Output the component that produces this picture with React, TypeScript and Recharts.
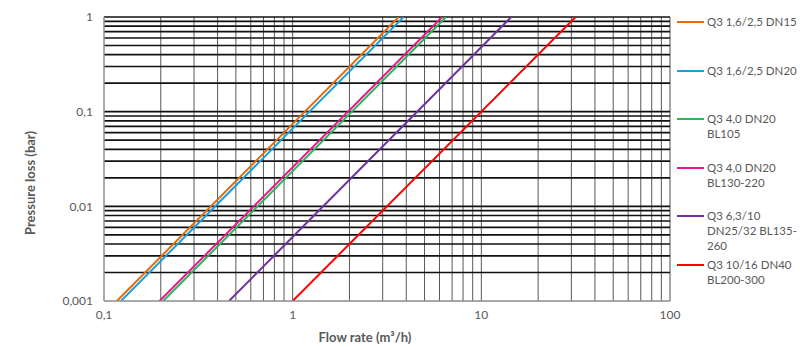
import React from 'react';
import { LineChart, Line, XAxis, YAxis, ReferenceLine, Label } from 'recharts';

const seriesNames = [
  'Q3 1,6/2,5 DN15',
  'Q3 1,6/2,5 DN20',
  'Q3 4,0 DN20\nBL105',
  'Q3 4,0 DN20\nBL130-220',
  'Q3 6,3/10\nDN25/32 BL135-\n260',
  'Q3 10/16 DN40\nBL200-300',
];
const seriesColors = ['#E36C0A', '#1AA0DB', '#2BB55A', '#E6168D', '#7030A0', '#FF0000'];
// flow rate (m³/h) at 0.001 bar and at 1 bar
const flowAtMinLoss = [0.117, 0.123, 0.206, 0.197, 0.46, 1.0];
const flowAtMaxLoss = [3.65, 3.87, 6.5, 6.2, 14.4, 31.6];
const lossRange = [0.001, 1];

const xTicks = [0.1, 1, 10, 100];
const yTicks = [0.001, 0.01, 0.1, 1];
const xGrid = [0.2, 0.3, 0.4, 0.5, 0.6, 0.7, 0.8, 0.9, 1, 2, 3, 4, 5, 6, 7, 8, 9, 10, 20, 30, 40, 50, 60, 70, 80, 90, 100];
const yGrid = [
  0.002, 0.003, 0.004, 0.005, 0.006, 0.007, 0.008, 0.009, 0.01,
  0.02, 0.03, 0.04, 0.05, 0.06, 0.07, 0.08, 0.09, 0.1,
  0.2, 0.3, 0.4, 0.5, 0.6, 0.7, 0.8, 0.9, 1,
];

const FONT = 'Lato, "Open Sans", sans-serif';
const fmt = (v: number) => String(v).replace('.', ',');

export default function App() {
  const series = seriesNames.map((name, i) => ({
    name,
    color: seriesColors[i],
    data: [
      { x: flowAtMinLoss[i], y: lossRange[0] },
      { x: flowAtMaxLoss[i], y: lossRange[1] },
    ],
  }));
  return (
    <div style={{ position: 'absolute', left: 0, top: 0, width: 800, height: 350, fontFamily: FONT, background: '#fff' }}>
      <LineChart width={800} height={350} margin={{ top: 17, right: 130, bottom: 4, left: 0 }}>
        <XAxis
          dataKey="x"
          type="number"
          scale="log"
          domain={[0.1, 100]}
          ticks={xTicks}
          allowDataOverflow
          height={45}
          tickSize={0}
          tickMargin={9}
          tickFormatter={fmt}
          tick={{ fill: '#595959', fontSize: 12, fontFamily: FONT }}
          axisLine={{ stroke: '#8c8c8c', strokeWidth: 1.5 }}
        >
          <Label
            value="Flow rate (m³/h)"
            position="insideBottom"
            offset={4}
            dx={-22}
            style={{ fill: '#595959', fontSize: 13, fontWeight: 700, fontFamily: FONT }}
          />
        </XAxis>
        <YAxis
          type="number"
          scale="log"
          domain={[0.001, 1]}
          ticks={yTicks}
          allowDataOverflow
          width={104}
          tickSize={0}
          tickMargin={11}
          tickFormatter={fmt}
          tick={{ fill: '#595959', fontSize: 12, fontFamily: FONT }}
          axisLine={{ stroke: '#8c8c8c', strokeWidth: 1.5 }}
        >
          <Label
            value="Pressure loss (bar)"
            angle={-90}
            position="center"
            dx={-22}
            dy={24}
            style={{ fill: '#595959', fontSize: 13, fontWeight: 700, fontFamily: FONT, textAnchor: 'middle' }}
          />
        </YAxis>
        {xGrid.map((v) => (
          <ReferenceLine
            key={'x' + v}
            x={v}
            stroke={v === 100 ? '#a6a6a6' : '#595959'}
            strokeWidth={v === 100 ? 2 : 1}
          />
        ))}
        {yGrid.map((v) => (
          <ReferenceLine key={'y' + v} y={v} stroke="#111" strokeWidth={1.6} />
        ))}
        {series.map((s) => (
          <Line
            key={s.name}
            data={s.data}
            dataKey="y"
            name={s.name}
            type="linear"
            stroke={s.color}
            strokeWidth={2}
            dot={false}
            isAnimationActive={false}
          />
        ))}
      </LineChart>
      <div style={{ position: 'absolute', left: 677, top: 14, width: 123, fontSize: 11.5, color: '#595959', fontFamily: FONT }}>
        {series.map((s) => (
          <div key={s.name} style={{ height: 48.5, display: 'flex', alignItems: 'flex-start' }}>
            <div style={{ width: 27, flex: 'none', height: 0, borderTop: `2px solid ${s.color}`, marginTop: 7 }} />
            <div style={{ marginLeft: 3, whiteSpace: 'pre', lineHeight: '15px' }}>{s.name}</div>
          </div>
        ))}
      </div>
    </div>
  );
}
